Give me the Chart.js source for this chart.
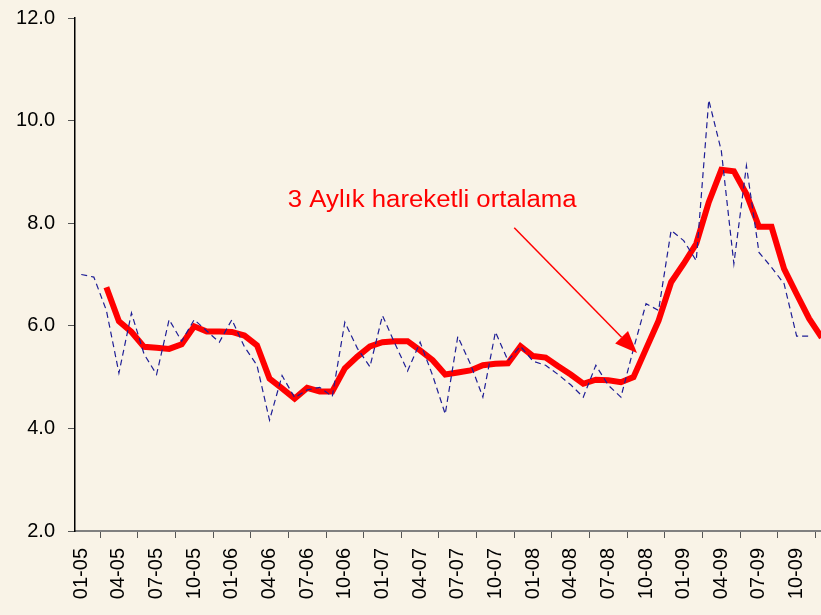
<!DOCTYPE html>
<html>
<head>
<meta charset="utf-8">
<script src="https://cdn.jsdelivr.net/npm/chart.js@4.4.1/dist/chart.umd.min.js"></script>
<style>
    body { margin: 0; background: #F9F3E7; overflow: hidden; }
    #wrap { width: 840px; height: 622px; margin-top: -7px; }
</style>
</head>
<body>
<div id="wrap"><canvas id="myChart" width="840" height="622"></canvas></div>
<script>
// months 01-05 .. 12-09
const months = [];
for (let y = 5; y <= 9; y++) {
    for (let m = 1; m <= 12; m++) {
        months.push(String(m).padStart(2, '0') + '-0' + y);
    }
}

// monthly values (dashed)
const monthly = [
    7.0, 6.95, 6.3, 5.08, 6.25, 5.45, 5.05, 6.12, 5.7, 6.12,
    5.9, 5.68, 6.12, 5.59, 5.23, 4.16, 5.03, 4.6, 4.75, 4.8,
    4.62, 6.07, 5.56, 5.2, 6.2, 5.65, 5.12, 5.68, 5.03, 4.28,
    5.79, 5.26, 4.61, 5.88, 5.32, 5.6, 5.31, 5.23, 5.05, 4.85,
    4.61, 5.23, 4.84, 4.61, 5.55, 6.43, 6.3, 7.86, 7.66, 7.27,
    10.4, 9.41, 7.21, 9.12, 7.43, 7.14, 6.82, 5.8, 5.8, null
];

// 3 month moving average (red)
const movingAvg = [
    null, null, 6.75, 6.09, 5.88, 5.59, 5.57, 5.55, 5.64, 5.99,
    5.89, 5.89, 5.88, 5.81, 5.62, 4.97, 4.78, 4.58, 4.79, 4.72,
    4.72, 5.17, 5.4, 5.6, 5.68, 5.7, 5.7, 5.52, 5.33, 5.05,
    5.09, 5.13, 5.23, 5.26, 5.27, 5.6, 5.41, 5.38, 5.21, 5.05,
    4.87, 4.95, 4.94, 4.9, 5.0, 5.55, 6.1, 6.85, 7.21, 7.6,
    8.41, 9.04, 9.01, 8.57, 7.93, 7.93, 7.11, 6.62, 6.14, 5.77
];

const yTicks = [2, 4, 6, 8, 10, 12];

// annotation: label and arrow, in data units (category index, value)
const noteText = '3 Aylık hareketli ortalama';
const notePos = [27.96, 8.44];
const arrowFrom = [34.5, 7.91];
const arrowTo = [44.28, 5.47];

const notePlugin = {
    id: 'note',
    afterDatasetsDraw(chart) {
        const ctx = chart.ctx;
        const xs = chart.scales.x, ys = chart.scales.y;
        ctx.save();
        ctx.fillStyle = '#FF0000';
        ctx.strokeStyle = '#FF0000';

        // text looks a bit wide in the original, so stretch it a little
        const tx = xs.getPixelForValue(notePos[0]), ty = ys.getPixelForValue(notePos[1]);
        ctx.save();
        ctx.translate(tx, ty);
        ctx.scale(1.12, 1);
        ctx.font = '23px "Liberation Sans", Arial, sans-serif';
        ctx.textAlign = 'center';
        ctx.textBaseline = 'middle';
        ctx.fillText(noteText, 0, 0);
        ctx.restore();

        const x1 = xs.getPixelForValue(arrowFrom[0]), y1 = ys.getPixelForValue(arrowFrom[1]);
        const x2 = xs.getPixelForValue(arrowTo[0]), y2 = ys.getPixelForValue(arrowTo[1]);
        const ang = Math.atan2(y2 - y1, x2 - x1);
        const len = 22, half = 9;
        const bx = x2 - len * Math.cos(ang), by = y2 - len * Math.sin(ang);
        ctx.lineWidth = 1.5;
        ctx.beginPath();
        ctx.moveTo(x1, y1);
        ctx.lineTo(bx, by);
        ctx.stroke();
        ctx.beginPath();
        ctx.moveTo(x2, y2);
        ctx.lineTo(bx + half * Math.sin(ang), by - half * Math.cos(ang));
        ctx.lineTo(bx - half * Math.sin(ang), by + half * Math.cos(ang));
        ctx.closePath();
        ctx.fill();
        ctx.restore();
    }
};

const data = {
    labels: months,
    datasets: [{
        label: 'Aylık',
        data: monthly,
        borderColor: '#1E1E96',
        borderWidth: 1.2,
        borderDash: [6, 4],
        pointRadius: 0,
        tension: 0,
        spanGaps: false
    }, {
        label: '3 Aylık hareketli ortalama',
        data: movingAvg,
        borderColor: '#FF0000',
        borderWidth: 6,
        pointRadius: 0,
        tension: 0
    }]
};

const config = {
    type: 'line',
    data: data,
    options: {
        responsive: false,
        animation: false,
        layout: { padding: { top: 10, right: 12, left: 0, bottom: 0 } },
        plugins: {
            legend: { display: false },
            tooltip: { enabled: false }
        },
        scales: {
            x: {
                offset: true,
                afterFit: function (scale) { scale.height = 84; },
                grid: {
                    offset: true,
                    drawOnChartArea: false,
                    drawTicks: true,
                    tickLength: 7,
                    color: '#555555'
                },
                border: { color: '#808080', width: 2 },
                ticks: {
                    autoSkip: false,
                    maxRotation: 90,
                    minRotation: 90,
                    padding: 10,
                    color: '#000000',
                    font: { family: '"Liberation Sans", Arial, sans-serif', size: 20 },
                    callback: function (v, i) { return i % 3 === 0 ? months[i] : null; }
                }
            },
            y: {
                min: 2,
                max: 12,
                afterBuildTicks: function (scale) {
                    scale.ticks = yTicks.map(v => ({ value: v }));
                },
                afterFit: function (scale) { scale.width = 75; },
                grid: {
                    drawOnChartArea: false,
                    drawTicks: true,
                    tickLength: 7,
                    color: '#555555'
                },
                border: { color: '#000000', width: 1.5 },
                ticks: {
                    padding: 13,
                    color: '#000000',
                    font: { family: '"Liberation Sans", Arial, sans-serif', size: 20 },
                    callback: function (v) { return v.toFixed(1); }
                }
            }
        }
    },
    plugins: [notePlugin]
};

const myChart = new Chart(
    document.getElementById('myChart'),
    config
);
</script>
</body>
</html>
